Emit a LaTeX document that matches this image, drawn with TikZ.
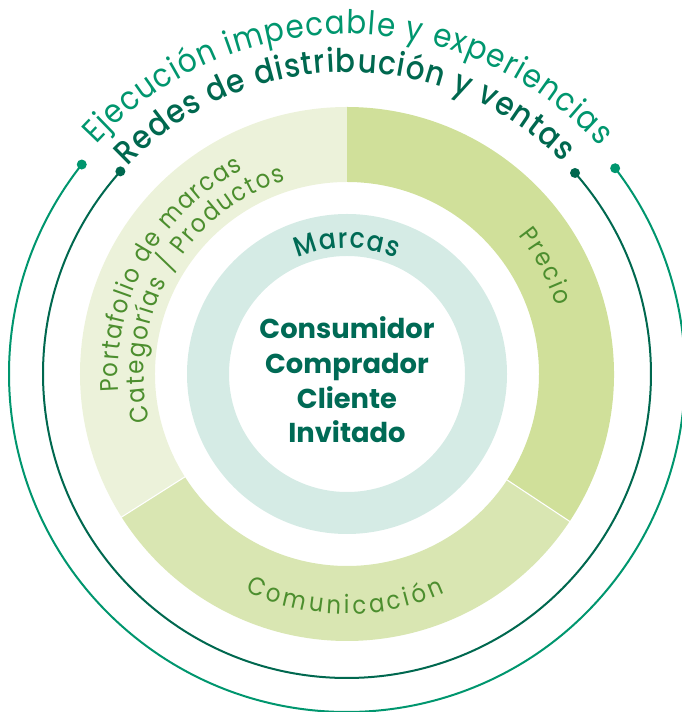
\documentclass[tikz,border=0pt]{standalone}
\usepackage{fontspec}
\setmainfont{Poppins}
\newfontfamily\arcfont{Poppins}[FakeStretch=0.9]
\newfontfamily\medfont{Poppins Medium}[FakeStretch=0.9]
\usepackage{tikz}
\usepackage{xcolor}
\definecolor{Jade}{HTML}{00966E}
\definecolor{DeepJade}{HTML}{00684F}
\definecolor{Pine}{HTML}{006A55}
\definecolor{PaleLeaf}{HTML}{ECF2DA}
\definecolor{Leaf}{HTML}{D0E09A}
\definecolor{SoftLeaf}{HTML}{D9E6B2}
\definecolor{Mist}{HTML}{D5EBE5}
\definecolor{Olive}{HTML}{4C8E2E}
\usetikzlibrary{decorations.text}
\tikzset{
    ringlabel/.style={decorate, decoration={text along path, text align={fit to path}}},
    dot/.style={circle, inner sep=0pt, minimum size=7.5pt},
}

\begin{document}
\begin{tikzpicture}[x=0.75pt, y=0.75pt]
    \useasboundingbox (-347,-338) rectangle (334,374);

    % Segments of the green ring
    \fill[PaleLeaf] (90:267) arc (90:212.4:267) -- (212.4:192) arc (212.4:90:192) -- cycle; % Portafolio
    \fill[SoftLeaf] (212.4:267) arc (212.4:326.5:267) -- (326.5:192) arc (326.5:212.4:192) -- cycle; % Comunicacion
    \fill[Leaf] (326.5:267) arc (326.5:450:267) -- (90:192) arc (450:326.5:192) -- cycle; % Precio
    \draw[white, line width=0.8pt] (212.4:191) -- (212.4:268) (326.5:191) -- (326.5:268);

    % Marcas ring
    \fill[Mist, even odd rule] (0,0) circle (160) (0,0) circle (118);

    % Outer lines with end dots
    \node[dot, fill=Jade] (jadeL) at (141.7:338) {};
    \node[dot, fill=Jade] (jadeR) at (37.5:338) {};
    \node[dot, fill=DeepJade] (deepL) at (138.2:304) {};
    \node[dot, fill=DeepJade] (deepR) at (41.4:304) {};
    \draw[Jade, line width=1.5pt] (jadeL.center) arc (141.7:397.5:338);
    \draw[DeepJade, line width=1.5pt] (deepL.center) arc (138.2:401.4:304);

    % Texts along the rings
    \path[ringlabel, decoration={text color=Jade, text={|\arcfont\fontsize{24.5}{28}\selectfont|Ejecución impecable y experiencias}}]
        (137.5:340) arc (137.5:42:340);
    \path[ringlabel, decoration={text color=DeepJade, text={|\medfont\fontsize{24.5}{28}\selectfont|Redes de distribución y ventas}}]
        (136.5:302) arc (136.5:44.5:302);
    \path[ringlabel, decoration={text color=Olive, text={|\arcfont\fontsize{19}{20}\selectfont|Portafolio de marcas}}]
        (184.5:229) arc (184.5:117:229);
    \path[ringlabel, decoration={text color=Olive, text={|\arcfont\fontsize{19}{20}\selectfont|Categorías / Productos}}]
        (193.5:203) arc (193.5:107.5:203);
    \path[ringlabel, decoration={text color=Olive, text={|\arcfont\fontsize{19}{20}\selectfont|Precio}}]
        (39:220) arc (39:18:220);
    \path[ringlabel, decoration={text color=Olive, text={|\arcfont\fontsize{19}{20}\selectfont|Comunicación}}]
        (245:240) arc (245:294:240);
    \path[ringlabel, decoration={text color=Pine, text={|\medfont\fontsize{21}{22}\selectfont|Marcas}}]
        (113:126) arc (113:67:126);

    % Centre
    \node[font=\bfseries\fontsize{20.5}{26}\selectfont, text=Pine, align=center] (core) at (0,-6)
        {Consumidor\\Comprador\\Cliente\\Invitado};
\end{tikzpicture}
\end{document}
